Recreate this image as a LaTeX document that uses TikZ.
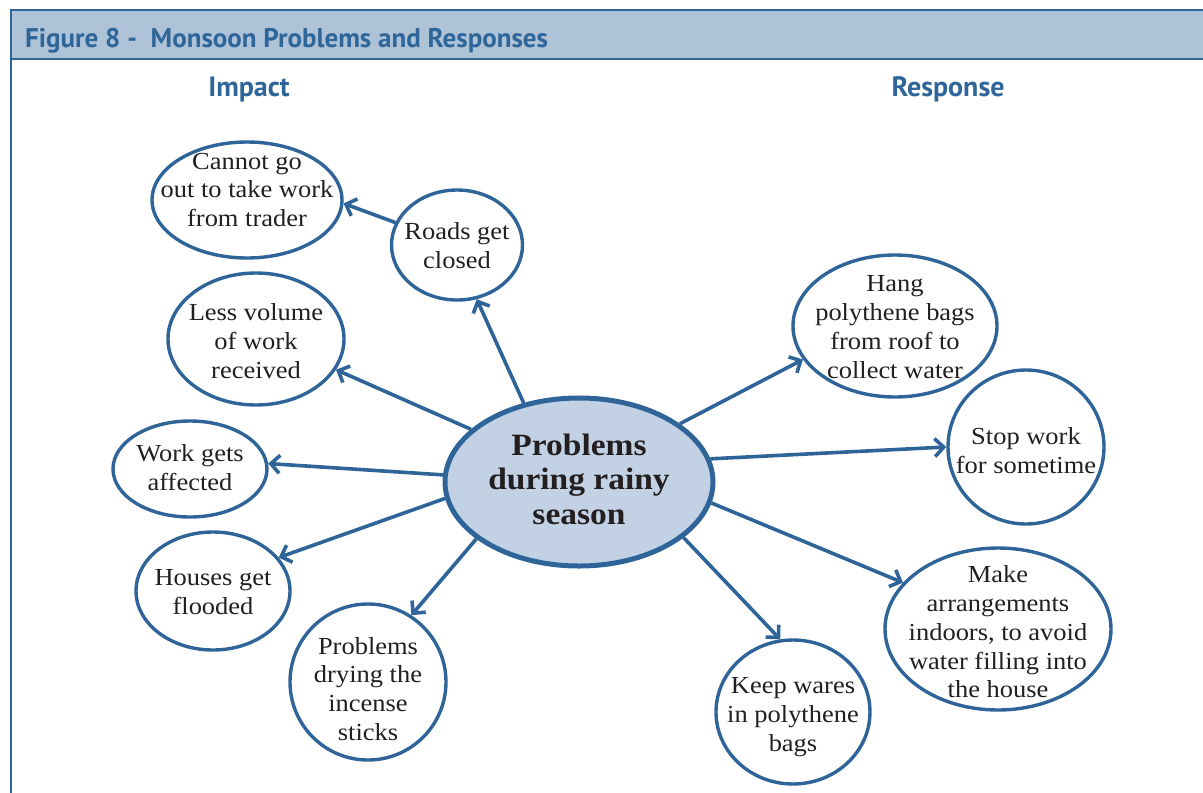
\documentclass[tikz,border=0pt]{standalone}
\usepackage{fontspec}
\setmainfont{Liberation Serif}[FakeStretch=1.08]
\newfontfamily\headfont{PT Sans}
\usetikzlibrary{shapes.geometric,arrows.meta}
\definecolor{edge}{HTML}{2F6499}
\definecolor{band}{HTML}{AFC3D8}
\definecolor{hub}{HTML}{C2D2E4}
\definecolor{ink}{HTML}{231F20}
\definecolor{title}{HTML}{2F6699}
\tikzset{
  bubble/.style={ellipse, draw=edge, line width=3.4pt, fill=white, inner sep=0pt},
  hubbox/.style={ellipse, draw=edge, line width=5pt, fill=hub, inner sep=0pt},
  btext/.style={align=center, text=ink, inner sep=0pt, font=\fontsize{24.5}{28.8}\selectfont},
  hubtext/.style={align=center, text=ink, inner sep=0pt, font=\fontsize{31}{34.5}\selectfont\bfseries},
  headtext/.style={text=title, font=\headfont\bfseries\fontsize{27}{30}\selectfont, inner sep=0pt},
  coltext/.style={text=title, font=\headfont\bfseries\fontsize{28}{30}\selectfont, inner sep=0pt},
  link/.style={draw=edge, line width=3.6pt, -{Straight Barb[length=9pt,width=18pt,line width=3.6pt]}},
  frame/.style={draw=edge, line width=1.6pt}
}
\begin{document}
\begin{tikzpicture}[x=1pt,y=-1pt]
\useasboundingbox (0,0) rectangle (1203,793);
% header band and frame
\fill[band] (11,10) rectangle (1203,59);
\draw[frame] (1203,10) -- (11,10) -- (11,793);
\draw[frame] (11,59) -- (1203,59);
\node[headtext, anchor=base west] (head) at (25,47) {Figure 8 -\ \ Monsoon Problems and Responses};
\node[coltext, anchor=base] (impact) at (249,96) {Impact};
\node[coltext, anchor=base] (response) at (948,96) {Response};

% bubbles
\node[bubble, minimum width=190pt, minimum height=116pt] (cannot) at (247,200) {};
\node[bubble, minimum width=131pt, minimum height=110pt] (roads) at (457,245) {};
\node[bubble, minimum width=176pt, minimum height=132pt] (less) at (256,339) {};
\node[bubble, minimum width=154pt, minimum height=96pt] (work) at (190,469) {};
\node[bubble, minimum width=154pt, minimum height=118pt] (houses) at (213,591) {};
\node[bubble, minimum width=156pt, minimum height=156pt] (drying) at (368,682) {};
\node[bubble, minimum width=204pt, minimum height=142pt] (hang) at (895,326) {};
\node[bubble, minimum width=156pt, minimum height=154pt] (stop) at (1026,447) {};
\node[bubble, minimum width=226pt, minimum height=162pt] (make) at (998,629) {};
\node[bubble, minimum width=154pt, minimum height=144pt] (keep) at (793,712) {};
\node[hubbox, minimum width=268pt, minimum height=168pt] (hub) at (579,482) {};

% texts
\node[btext] (cannot-t) at (247,190) {Cannot go\\out to take work\\from trader};
\node[btext] (roads-t) at (457,246) {Roads get\\closed};
\node[btext] (less-t) at (256,341) {Less volume\\of work\\received};
\node[btext] (work-t) at (190,468) {Work gets\\affected};
\node[btext] (houses-t) at (213,592) {Houses get\\flooded};
\node[btext] (drying-t) at (368,689) {Problems\\drying the\\incense\\sticks};
\node[btext] (hang-t) at (895,327) {Hang\\polythene bags\\from roof to\\collect water};
\node[btext] (stop-t) at (1026,451) {Stop work\\for sometime};
\node[btext] (make-t) at (998,632) {Make\\arrangements\\indoors, to avoid\\water filling into\\the house};
\node[btext] (keep-t) at (793,717) {Keep wares\\in polythene\\bags};
\node[hubtext] (hub-t) at (579,479) {Problems\\during rainy\\season};

% connectors
\draw[link] (hub.125) -- (roads.-70);
\draw[link] (roads.160) -- (cannot.-2);
\draw[link] (hub.154) -- (less.-21);
\draw[link] (hub.177) -- (work.4);
\draw[link] (hub.-173) -- (houses.27);
\draw[link] (hub.209) -- (drying.57);
\draw[link] (hub.30) -- (hang.200);
\draw[link] (hub.10.5) -- (stop.180);
\draw[link] (hub.-9) -- (make.154);
\draw[link] (hub.-28) -- (keep.100);
\end{tikzpicture}
\end{document}
